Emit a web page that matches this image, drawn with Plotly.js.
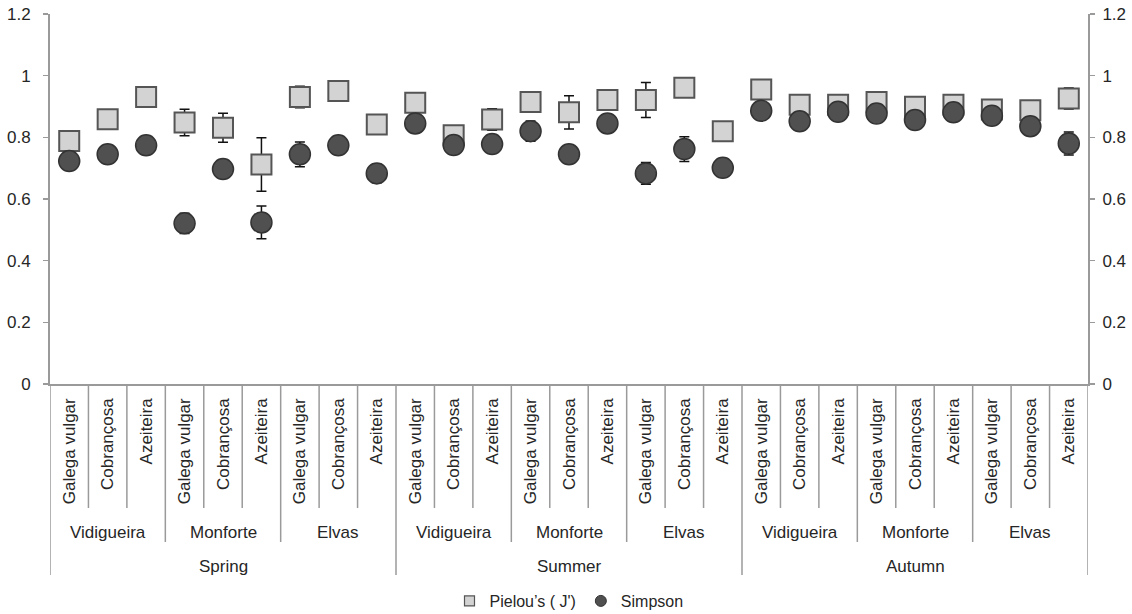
<!DOCTYPE html>
<html>
<head>
<meta charset="utf-8">
<script src="https://cdn.plot.ly/plotly-3.0.1.min.js"></script>
<style>html,body{margin:0;padding:0;background:#fff;}#chart{width:1132px;height:614px;}</style>
</head>
<body>
<div id="chart"></div>
<script>
// ---- data ----
const seasons = ["Spring", "Summer", "Autumn"];
const sites = ["Vidigueira", "Monforte", "Elvas"];
const cultivars = ["Galega vulgar", "Cobrançosa", "Azeiteira"];

const pielou = [0.788, 0.859, 0.931, 0.848, 0.831, 0.712, 0.931, 0.950, 0.842,
                0.912, 0.807, 0.858, 0.915, 0.881, 0.921, 0.921, 0.961, 0.820,
                0.955, 0.906, 0.906, 0.915, 0.899, 0.906, 0.890, 0.888, 0.926];
const pielouErr = [0.010, 0.010, 0.010, 0.043, 0.047, 0.087, 0.035, 0.005, 0.015,
                   0.010, 0.020, 0.035, 0.015, 0.054, 0.015, 0.057, 0.010, 0.020,
                   0.010, 0.020, 0.020, 0.020, 0.032, 0.020, 0.031, 0.020, 0.034];
const simpson = [0.723, 0.745, 0.774, 0.521, 0.697, 0.524, 0.745, 0.774, 0.683,
                 0.845, 0.775, 0.778, 0.820, 0.745, 0.845, 0.683, 0.762, 0.701,
                 0.886, 0.852, 0.883, 0.877, 0.856, 0.881, 0.870, 0.836, 0.780];
const simpsonErr = [0.010, 0.020, 0.010, 0.033, 0.030, 0.053, 0.040, 0.010, 0.030,
                    0.010, 0.030, 0.020, 0.033, 0.020, 0.020, 0.035, 0.040, 0.020,
                    0.020, 0.020, 0.020, 0.020, 0.030, 0.020, 0.020, 0.020, 0.037];
const yTicks = [0, 0.2, 0.4, 0.6, 0.8, 1, 1.2];
const yTickText = ["0", "0.2", "0.4", "0.6", "0.8", "1", "1.2"];

// ---- build categories ----
const labels = [];
seasons.forEach(() => sites.forEach(() => cultivars.forEach(c => labels.push(c))));
const xs = labels.map((_, i) => i);
const n = labels.length;

const FONT = "Liberation Sans, Arial, sans-serif";
const AXC = "#9a9a9a";
const TXT = "#262626";
const FS = 17;

const errStyle = {type: "data", color: "#111", thickness: 1.5, width: 5};

const traces = [
  {
    x: xs, y: pielou, type: "scatter", mode: "markers", name: "Pielou’s ( J')",
    showlegend: false,
    marker: {symbol: "square", size: 20, color: "#d3d3d3", line: {color: "#555", width: 2}},
    error_y: Object.assign({array: pielouErr}, errStyle)
  },
  {
    x: xs, y: simpson, type: "scatter", mode: "markers", name: "Simpson",
    showlegend: false,
    marker: {symbol: "circle", size: 21, color: "#505050", line: {color: "#333", width: 1.5}},
    error_y: Object.assign({array: simpsonErr}, errStyle)
  },
  {
    x: [null], y: [null], type: "scatter", mode: "markers", name: "Pielou’s ( J')",
    marker: {symbol: "square", size: 10, color: "#d3d3d3", line: {color: "#555", width: 1.2}}
  },
  {
    x: [null], y: [null], type: "scatter", mode: "markers", name: "Simpson",
    marker: {symbol: "circle", size: 11, color: "#505050", line: {color: "#333", width: 1}}
  },
  {
    x: xs, y: simpson, type: "scatter", mode: "markers", yaxis: "y2",
    showlegend: false, hoverinfo: "skip", marker: {opacity: 0}
  }
];

// ---- layout geometry in paper coords ----
const T = 14, B = 230, H = 614;
const plotH = H - T - B;
const py = px => (H - B - px) / plotH; // pixel y -> paper y

const shapes = [];
for (let i = 0; i <= n; i++) {
  let bottom;
  if (i % 9 === 0) bottom = py(575);
  else if (i % 3 === 0) bottom = py(542);
  else bottom = py(508);
  shapes.push({type: "line", xref: "x", yref: "paper", x0: i - 0.5, x1: i - 0.5,
               y0: 0, y1: bottom, line: {color: AXC, width: 1.5}});
}

const annotations = [];
seasons.forEach((s, si) => {
  sites.forEach((st, ti) => {
    annotations.push({xref: "x", yref: "paper", x: si * 9 + ti * 3 + 1, y: py(532),
      yanchor: "middle", xanchor: "center",
      text: st, showarrow: false, font: {family: FONT, size: FS, color: TXT}});
  });
  annotations.push({xref: "x", yref: "paper", x: si * 9 + 4, y: py(566),
    yanchor: "middle", xanchor: "center",
    text: s, showarrow: false, font: {family: FONT, size: FS, color: TXT}});
});

const layout = {
  width: 1132, height: 614,
  margin: {l: 50, r: 44, t: T, b: B, pad: 0, autoexpand: false},
  paper_bgcolor: "#fff", plot_bgcolor: "#fff",
  font: {family: FONT, size: FS, color: TXT},
  xaxis: {
    range: [-0.5, n - 0.5], tickvals: xs, ticktext: labels, tickangle: -90,
    ticks: "", showgrid: false, zeroline: false, showline: true,
    linecolor: AXC, linewidth: 1.5, tickfont: {family: FONT, size: FS, color: TXT},
    ticklabelstandoff: 6, fixedrange: true, automargin: false
  },
  yaxis: {
    range: [0, 1.2], tickvals: yTicks, ticktext: yTickText, ticks: "outside",
    ticklen: 5, tickcolor: AXC, tickwidth: 1.5, showgrid: false, zeroline: false,
    showline: true, linecolor: AXC, linewidth: 2, automargin: false,
    ticklabelstandoff: 9,
    tickfont: {family: FONT, size: FS, color: TXT}, fixedrange: true
  },
  yaxis2: {
    range: [0, 1.2], overlaying: "y", side: "right", anchor: "x",
    tickvals: yTicks, ticktext: yTickText, ticks: "outside",
    ticklen: 5, tickcolor: AXC, tickwidth: 1.5, showgrid: false, zeroline: false,
    showline: true, linecolor: AXC, linewidth: 2, automargin: false,
    ticklabelstandoff: 4,
    tickfont: {family: FONT, size: FS, color: TXT}, fixedrange: true
  },
  showlegend: true,
  legend: {
    orientation: "h", x: 0.5, xanchor: "center", y: py(601), yanchor: "middle",
    font: {family: FONT, size: 16, color: TXT}, itemwidth: 30, traceorder: "normal",
    bgcolor: "rgba(0,0,0,0)"
  },
  shapes: shapes,
  annotations: annotations
};

Plotly.newPlot("chart", traces, layout, {displayModeBar: false, staticPlot: true});
</script>
</body>
</html>
